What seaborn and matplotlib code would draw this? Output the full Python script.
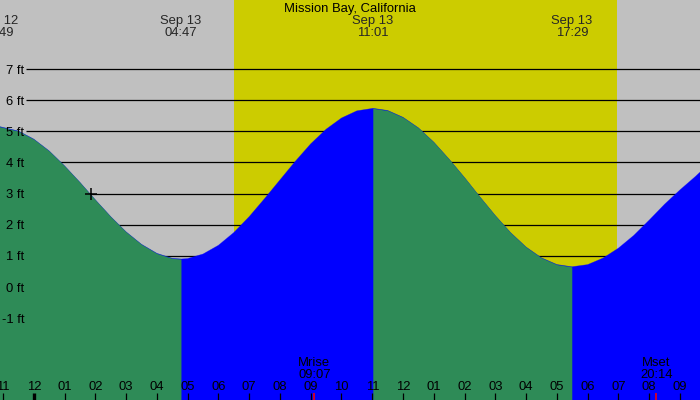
import matplotlib
matplotlib.use("Agg")
import matplotlib.pyplot as plt
import matplotlib.transforms as mtransforms
import numpy as np
import pandas as pd
import seaborn as sns

# ---------------- data ----------------
station = "Mission Bay, California"

# hours relative to Sep 13 00:00 (negative = Sep 12), tide height in ft
tide_hours = [-1.183, -1.1, -0.5, 0.0, 0.5, 1.0, 1.5, 2.0, 2.5, 3.0, 3.5, 4.0, 4.5, 4.783,
              5.0, 5.5, 6.0, 6.5, 7.0, 7.5, 8.0, 8.5, 9.0, 9.5, 10.0, 10.5, 11.017,
              11.5, 12.0, 12.5, 13.0, 13.5, 14.0, 14.5, 15.0, 15.5, 16.0, 16.5, 17.0, 17.483,
              18.0, 18.5, 19.0, 19.5, 20.0, 20.5, 21.0, 21.5, 21.65]
tide_ft = [5.15, 5.15, 5.01, 4.75, 4.37, 3.89, 3.36, 2.80, 2.26, 1.77, 1.37, 1.08, 0.92, 0.90,
           0.915, 1.06, 1.34, 1.75, 2.26, 2.84, 3.44, 4.04, 4.60, 5.07, 5.43, 5.66, 5.74,
           5.67, 5.45, 5.11, 4.65, 4.10, 3.51, 2.89, 2.29, 1.74, 1.28, 0.935, 0.72, 0.65,
           0.72, 0.93, 1.25, 1.66, 2.15, 2.66, 3.12, 3.55, 3.69]

extreme_hours = [-1.183, 4.783, 11.017, 17.483]
extreme_dates = ["Sep 12", "Sep 13", "Sep 13", "Sep 13"]
extreme_times = ["22:49", "04:47", "11:01", "17:29"]

sunrise_hour = 6.50
sunset_hour = 18.95

moon_hours = [9.117, 20.233]
moon_names = ["Mrise", "Mset"]
moon_times = ["09:07", "20:14"]

hour_ticks = list(range(-1, 22))
hour_tick_labels = ["11", "12", "01", "02", "03", "04", "05", "06", "07", "08", "09", "10",
                    "11", "12", "01", "02", "03", "04", "05", "06", "07", "08", "09"]

ft_levels = [7, 6, 5, 4, 3, 2, 1, 0, -1]
ft_labels = ["7 ft", "6 ft", "5 ft", "4 ft", "3 ft", "2 ft", "1 ft", "0 ft", "-1 ft"]

now_hour = [1.86]
now_ft = [3.0]

x_start, x_end = -1.0975, 21.65
y_bottom, y_top = -3.63, 9.22

# ---------------- style ----------------
sns.set_theme(style="white")
plt.rcParams["font.family"] = ["Liberation Sans", "DejaVu Sans"]
FS = 9.4

GRAY = "#C0C0C0"
YELLOW = "#CCCC00"
GREEN = "#2E8B57"
BLUE = "#0000FF"

fig = plt.figure(figsize=(7, 4), dpi=100)
ax = fig.add_axes([0, 0, 1, 1])
ax.set_facecolor(GRAY)

bx = mtransforms.blended_transform_factory(ax.transData, ax.transAxes)   # x data, y axes
by = mtransforms.blended_transform_factory(ax.transAxes, ax.transData)   # x axes, y data


def ypix(p):
    """pixel row from top -> axes fraction"""
    return 1 - p / 400


# daylight
ax.axvspan(sunrise_hour, sunset_hour, color=YELLOW, lw=0, zorder=0.5)

# horizontal ft lines
ax.hlines(ft_levels, 26 / 700, 1.0, transform=by, color="black", lw=0.9, zorder=1)

# tide fill: blue base, falling segments in green on top
df = pd.DataFrame({"hour": tide_hours, "ft": tide_ft})
ax.fill_between(df.hour, y_bottom, df.ft, color=BLUE, lw=0, zorder=2)
sns.lineplot(data=df, x="hour", y="ft", ax=ax, color=BLUE, lw=0.4, alpha=0.5,
             zorder=1.95, legend=False, estimator=None)
bounds = [-np.inf] + extreme_hours[1:] + [np.inf]
for a, b in zip(bounds[:-1], bounds[1:]):
    seg = df[(df.hour >= a - 1e-9) & (df.hour <= b + 1e-9)]
    if seg.ft.iloc[-1] < seg.ft.iloc[0]:
        sns.lineplot(data=seg, x="hour", y="ft", ax=ax, color=GREEN, lw=0.4, alpha=0.5,
                     zorder=1.96, legend=False, estimator=None)
        ax.fill_between(seg.hour, y_bottom, seg.ft, color=GREEN, lw=0, zorder=2.1)
ax.set_xlabel("")
ax.set_ylabel("")
ax.set_xlim(x_start, x_end)
ax.set_ylim(y_bottom, y_top)
for s in ax.spines.values():
    s.set_visible(False)
ax.set_xticks([])
ax.set_yticks([])

# ft labels
for lv, lab in zip(ft_levels, ft_labels):
    ax.text(24 / 700, lv, lab, transform=by, ha="right", va="center_baseline",
            fontsize=FS, color="black", zorder=5)

# "now" marker
ax.plot(now_hour, now_ft, marker="+", ms=9, mew=1.1, color="black", ls="none", zorder=4)

# title and extremes labels
ax.text(0.5, ypix(7.5), station, transform=ax.transAxes, ha="center", va="center_baseline",
        fontsize=FS, color="black", zorder=5)
for h, d, t in zip(extreme_hours, extreme_dates, extreme_times):
    ax.text(h, ypix(19.5), d, transform=bx, ha="center", va="center_baseline", fontsize=FS, zorder=5)
    ax.text(h, ypix(31.5), t, transform=bx, ha="center", va="center_baseline", fontsize=FS, zorder=5)

# hour ticks and labels
for h, lab in zip(hour_ticks, hour_tick_labels):
    lw = 2.4 if h == 0 else 0.9
    ax.vlines(h, 0, 7 / 400, transform=bx, color="black", lw=lw, zorder=5)
    ax.text(h, ypix(386), lab, transform=bx, ha="center", va="center_baseline",
            fontsize=FS, color="black", zorder=6)

# moon rise / set
for h, n, t in zip(moon_hours, moon_names, moon_times):
    ax.vlines(h, 0, 7 / 400, transform=bx, color="red", lw=1.1, zorder=5)
    ax.text(h, ypix(362), n, transform=bx, ha="center", va="center_baseline",
            fontsize=FS, color="black", zorder=6)
    ax.text(h, ypix(374), t, transform=bx, ha="center", va="center_baseline",
            fontsize=FS, color="black", zorder=6)

fig.savefig("out.png", dpi=100)
